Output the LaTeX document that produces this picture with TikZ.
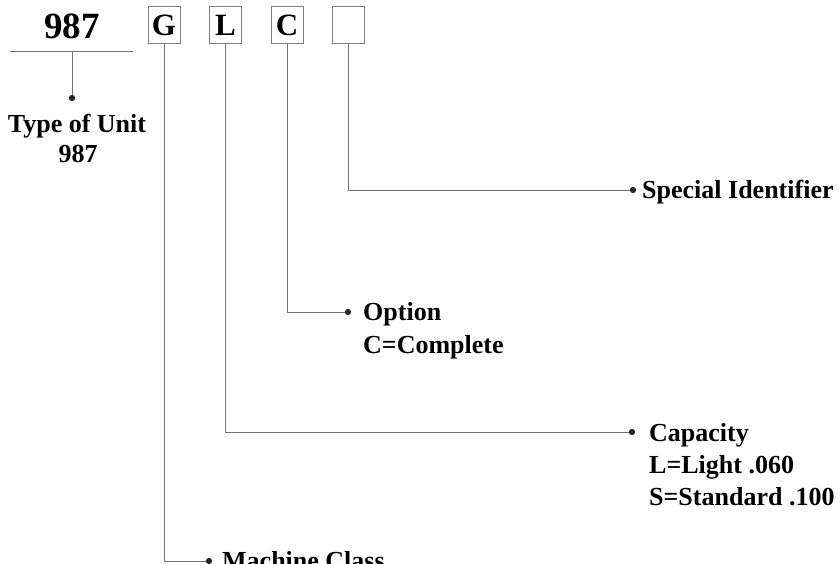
\documentclass[tikz,border=0pt]{standalone}
\usepackage{fontspec}
\setmainfont{Liberation Serif}
\begin{document}
\begin{tikzpicture}[x=1pt,y=-1pt,
  lbl/.style={font=\bfseries\fontsize{26}{32}\selectfont, inner sep=0pt, anchor=base west},
  lblc/.style={font=\bfseries\fontsize{26}{32}\selectfont, inner sep=0pt, anchor=base},
  big/.style={font=\bfseries\fontsize{37}{40}\selectfont, inner sep=0pt, anchor=base},
  letterbox/.style={draw=black!50, line width=0.9pt, minimum width=32pt, minimum height=37pt,
    inner sep=0pt, text height=21.5pt, text depth=0pt, font=\bfseries\fontsize{31}{31}\selectfont},
  conn/.style={draw=black!55, line width=0.9pt},
  tipdot/.style={circle, fill=black!85, draw=none, inner sep=0pt, minimum size=6.3pt}]
\useasboundingbox (0,0) rectangle (840,564);
\clip (0,0) rectangle (840,564);

% type of unit
\node[big] (num) at (72,39) {987};
\coordinate (ulA) at (10,51);
\coordinate (ulB) at (133,51);
\coordinate (ulM) at (72,51);
\draw[conn] (ulA) -- (ulB);
\node[tipdot] (dT) at (72,98) {};
\draw[conn] (ulM) -- (dT);
\node[lblc] (t1) at (77,133) {Type of Unit};
\node[lblc] (t2) at (78,163) {987};

% boxes
\node[letterbox] (bG) at (164,24.5) {G};
\node[letterbox] (bL) at (225.5,24.5) {L};
\node[letterbox] (bC) at (287,24.5) {C};
\node[letterbox] (bS) at (348.5,24.5) {};

% special identifier
\node[tipdot] (dS) at (633,190) {};
\draw[conn] (bS.south) |- (dS);
\node[lbl] (s1) at (642,198.5) {Special Identifier};

% option
\node[tipdot] (dO) at (348,312) {};
\draw[conn] (bC.south) |- (dO);
\node[lbl] (o1) at (363,320) {Option};
\node[lbl] (o2) at (363,353) {C=Complete};

% capacity
\node[tipdot] (dC) at (632,432) {};
\draw[conn] (bL.south) |- (dC);
\node[lbl] (c1) at (649,441) {Capacity};
\node[lbl] (c2) at (649,473) {L=Light .060};
\node[lbl] (c3) at (649,505) {S=Standard .100};

% machine class
\node[tipdot] (dM) at (209,561) {};
\draw[conn] (bG.south) |- (dM);
\node[lbl] (m1) at (222,569.5) {Machine Class};
\end{tikzpicture}
\end{document}
